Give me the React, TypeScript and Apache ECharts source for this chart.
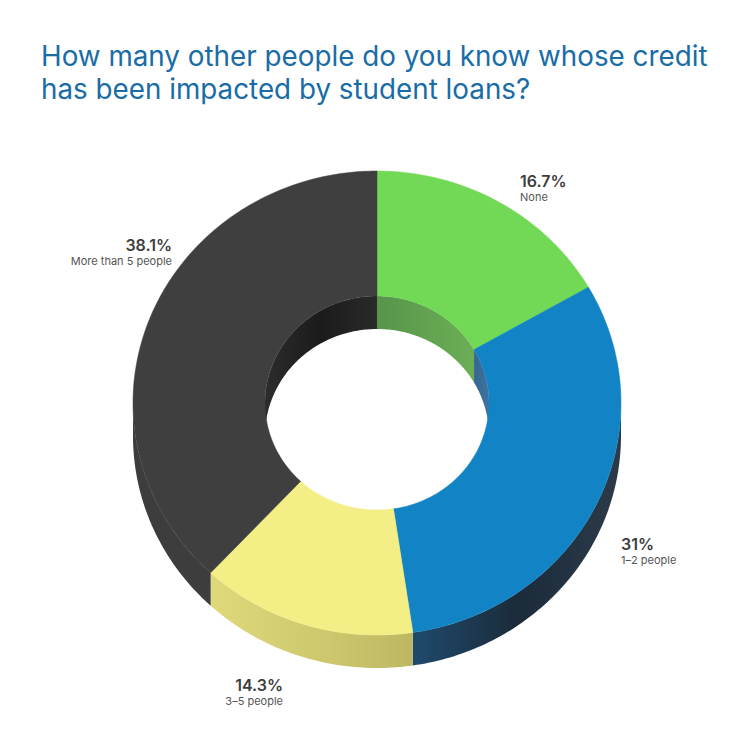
import React, { useEffect, useRef } from "react";
import * as echarts from "echarts";

const titleLines = ["How many other people do you know whose credit", "has been impacted by student loans?"];
const categories = ["None", "1–2 people", "3–5 people", "More than 5 people"];
const percentLabels = ["16.7%", "31%", "14.3%", "38.1%"];
const values = [16.7, 31, 14.3, 38.1];
const topColors = ["#72d957", "#1283c4", "#f3ee85", "#3f3f3f"];
const outerWallStops = [
  ["#72d957", "#72d957"],
  ["#1f4a6d", "#1b2b3a", "#2d3b49"],
  ["#dfd97c", "#d0ca6f", "#bdb763"],
  ["#3d3d3d", "#3d3d3d"],
];
const innerWallStops = [
  ["#57954a", "#6cae56"],
  ["#356792", "#3f729e"],
  ["#f3ee85", "#f3ee85"],
  ["#2c2c2c", "#1b1b1b", "#2a2a2a"],
];

const FONT = "Inter";
const CX = 377;
const CY = 403;
const OUTER_RX = 244;
const OUTER_RY = 232;
const INNER_RX = 112;
const INNER_RY = 107;
const DEPTH = 33;

const total = values.reduce((a, b) => a + b, 0);
let running = 0;
const sliceData = values.map((v, i) => {
  const start = (running / total) * 360;
  running += v;
  return { name: categories[i], value: [start, (running / total) * 360, v] };
});

function arc(rx: number, ry: number, a0: number, a1: number, dy = 0) {
  const pts: number[][] = [];
  const n = Math.max(2, Math.ceil(Math.abs(a1 - a0)));
  for (let i = 0; i <= n; i++) {
    const t = ((a0 + ((a1 - a0) * i) / n) * Math.PI) / 180;
    pts.push([CX + rx * Math.sin(t), CY - ry * Math.cos(t) + dy]);
  }
  return pts;
}

function paint(stops: string[]) {
  if (stops[0] === stops[stops.length - 1]) return stops[0];
  return {
    type: "linear",
    x: 0,
    y: 0,
    x2: 1,
    y2: 0,
    colorStops: stops.map((color, i) => ({ offset: i / (stops.length - 1), color })),
  };
}

function wall(rx: number, ry: number, a0: number, a1: number, stops: string[]) {
  return {
    type: "polygon",
    shape: { points: [...arc(rx, ry, a0, a1), ...arc(rx, ry, a1, a0, DEPTH)] },
    style: { fill: paint(stops) },
  };
}

const renderOuterWalls = (params: any, api: any) => {
  const a0 = Math.max(api.value(0), 90);
  const a1 = Math.min(api.value(1), 270);
  if (a1 <= a0) return { type: "group", children: [] };
  return wall(OUTER_RX, OUTER_RY, a0, a1, outerWallStops[params.dataIndex]);
};

const renderInnerWalls = (params: any, api: any) => {
  const s = api.value(0);
  const e = api.value(1);
  const stops = innerWallStops[params.dataIndex];
  const children: any[] = [];
  if (Math.min(e, 90) > s) children.push(wall(INNER_RX, INNER_RY, s, Math.min(e, 90), stops));
  if (e > Math.max(s, 270)) children.push(wall(INNER_RX, INNER_RY, Math.max(s, 270), e, stops));
  return { type: "group", children };
};

const renderTops = (params: any, api: any) => {
  const s = api.value(0);
  const e = api.value(1);
  const color = topColors[params.dataIndex];
  return {
    type: "polygon",
    shape: { points: [...arc(OUTER_RX, OUTER_RY, s, e), ...arc(INNER_RX, INNER_RY, e, s)] },
    style: { fill: color, stroke: color, lineWidth: 0.5 },
  };
};

const labelAnchors: { x: number; y: number; align: string }[] = [
  { x: 520, y: 180.5, align: "left" },
  { x: 621, y: 543.5, align: "left" },
  { x: 283, y: 684.5, align: "right" },
  { x: 172, y: 244.5, align: "right" },
];

export default function App() {
  const ref = useRef<HTMLDivElement>(null);
  useEffect(() => {
    const chart = echarts.init(ref.current!, null, { renderer: "svg" });
    const mk = (renderItem: any, name: string) => ({
      type: "custom",
      name,
      coordinateSystem: "none",
      renderItem,
      data: sliceData,
      silent: true,
      clip: false,
    });
    const labels: any[] = [];
    labelAnchors.forEach((a, i) => {
      labels.push({
        type: "text",
        x: a.x,
        y: a.y,
        style: {
          text: percentLabels[i],
          align: a.align,
          verticalAlign: "middle",
          fill: "#3d3d3d",
          font: `600 16px ${FONT}`,
        },
      });
      labels.push({
        type: "text",
        x: a.x,
        y: a.y + 16,
        style: {
          text: categories[i],
          align: a.align,
          verticalAlign: "middle",
          fill: "#555555",
          font: `400 11px ${FONT}`,
        },
      });
    });
    titleLines.forEach((text, i) => {
      labels.push({
        type: "text",
        x: 41,
        y: 56 + i * 33,
        style: {
          text,
          align: "left",
          verticalAlign: "middle",
          fill: "#1a6ca6",
          font: `400 27.8px ${FONT}`,
        },
      });
    });
    chart.setOption({
      animation: false,
      backgroundColor: "#ffffff",
      graphic: labels,
      series: [
        mk(renderOuterWalls, "outer wall"),
        mk(renderInnerWalls, "inner wall"),
        mk(renderTops, "top"),
      ],
    });
    return () => chart.dispose();
  }, []);
  return <div ref={ref} style={{ position: "absolute", left: 0, top: 0, width: 750, height: 750 }} />;
}
